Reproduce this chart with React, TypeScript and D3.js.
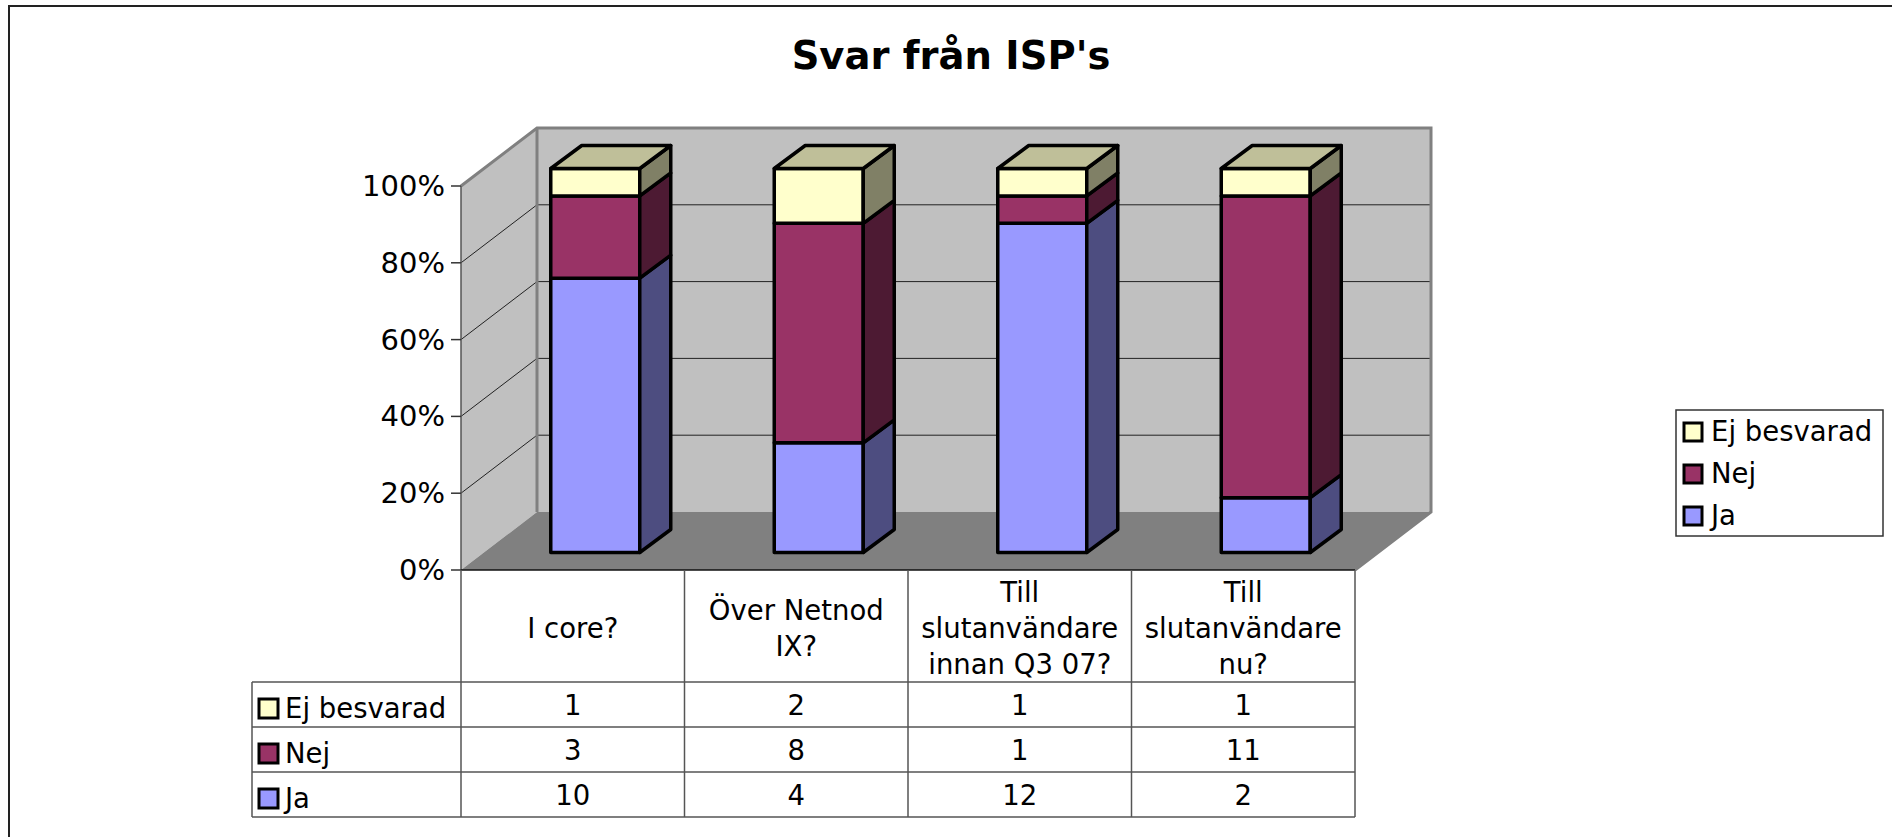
import * as d3 from "d3";

const categories = ["I core?", "Över Netnod IX?", "Till slutanvändare innan Q3 07?", "Till slutanvändare nu?"];
const categoryLines = [["I core?"], ["Över Netnod", "IX?"], ["Till", "slutanvändare", "innan Q3 07?"], ["Till", "slutanvändare", "nu?"]];
const ja = [10, 4, 12, 2];
const nej = [3, 8, 1, 11];
const ejBesvarad = [1, 2, 1, 1];
const seriesNames = ["Ja", "Nej", "Ej besvarad"];
const seriesValues = [ja, nej, ejBesvarad];
const front = ["#9999FF", "#993366", "#FFFFCC"];
const side = ["#4D4D80", "#4D1A33", "#808066"];
const topColor = "#BFBF99";
const yTicks = [0, 0.2, 0.4, 0.6, 0.8, 1];

const width = 1892;
const height = 837;
const left = 461;
const right = 1355;
const bottom = 570;
const top = 186;
const depthX = 76;
const depthY = 58;
const barDepthX = 31;
const barDepthY = 23;
const barWidth = 89;
const tableLeft = 252;
const rowTops = [682, 727, 772, 817];
const font = "'DejaVu Sans', Verdana, sans-serif";
const labelSize = 27.5;

export default function App() {
  const x = d3.scaleBand<string>().domain(categories).range([left, right]);
  const y = d3.scaleLinear([0, 1], [bottom, top]);

  const rows = categories.map((c, i) => {
    const r: any = { c };
    seriesNames.forEach((s, k) => (r[s] = seriesValues[k][i]));
    return r;
  });
  const stacked = d3.stack().keys(seriesNames).offset(d3.stackOffsetExpand)(rows);

  // bars sit in the middle of the floor depth
  const offX = (depthX - barDepthX) / 2;
  const offY = (depthY - barDepthY) / 2;
  const poly = (pts: number[][]) => pts.map((p) => p.join(",")).join(" ");

  return (
    <svg
      width={width}
      height={height}
      style={{ position: "absolute", left: 0, top: 0, fontFamily: font }}
    >
      <rect width={width} height={height} fill="#fff" />
      <path d={`M9,${height} V6 H${width}`} fill="none" stroke="#222" strokeWidth={2} />

      <text x={951} y={69} textAnchor="middle" fontSize={38.5} fontWeight="bold">
        Svar från ISP's
      </text>

      {/* walls and floor */}
      <polygon
        points={poly([[left + depthX, bottom - depthY], [right + depthX + 1, bottom - depthY], [right + depthX + 1, top - depthY], [left + depthX, top - depthY]])}
        fill="#C0C0C0"
      />
      <polygon
        points={poly([[left, bottom], [left + depthX, bottom - depthY], [left + depthX, top - depthY], [left, top]])}
        fill="#C0C0C0"
      />
      <polygon
        points={poly([[left, bottom], [right, bottom], [right + depthX, bottom - depthY], [left + depthX, bottom - depthY]])}
        fill="#808080"
      />
      {yTicks.slice(1, -1).map((t) => (
        <g key={t} stroke="#222" strokeWidth={1}>
          <line x1={left} y1={y(t)} x2={left + depthX} y2={y(t) - depthY} />
          <line x1={left + depthX} y1={y(t) - depthY} x2={right + depthX} y2={y(t) - depthY} />
        </g>
      ))}
      <path
        d={`M${left},${top} L${left + depthX},${top - depthY} H${right + depthX} V${bottom - depthY} L${right},${bottom}`}
        fill="none"
        stroke="#808080"
        strokeWidth={3}
      />
      <line x1={left + depthX} y1={top - depthY} x2={left + depthX} y2={bottom - depthY} stroke="#808080" strokeWidth={3} />

      {/* axis */}
      <line x1={left} y1={top} x2={left} y2={bottom} stroke="#555" strokeWidth={1.5} />
      {yTicks.map((t) => (
        <g key={t}>
          <line x1={left - 10} y1={y(t)} x2={left} y2={y(t)} stroke="#333" strokeWidth={1.5} />
          <text x={445} y={y(t) + 10} textAnchor="end" fontSize={29}>
            {d3.format(".0%")(t)}
          </text>
        </g>
      ))}

      {/* bars */}
      {categories.map((c, i) => {
        const x0 = x(c)! + x.bandwidth() / 2 + offX - barWidth / 2;
        const x1 = x0 + barWidth;
        return (
          <g key={c} stroke="#000" strokeWidth={3.5} strokeLinejoin="round">
            {stacked.map((s, k) => {
              const y0 = y(s[i][0]) - offY;
              const y1 = y(s[i][1]) - offY;
              return (
                <g key={s.key}>
                  <rect x={x0} y={y1} width={barWidth} height={y0 - y1} fill={front[k]} />
                  <polygon
                    points={poly([[x1, y0], [x1 + barDepthX, y0 - barDepthY], [x1 + barDepthX, y1 - barDepthY], [x1, y1]])}
                    fill={side[k]}
                  />
                  {k === stacked.length - 1 && (
                    <polygon
                      points={poly([[x0, y1], [x1, y1], [x1 + barDepthX, y1 - barDepthY], [x0 + barDepthX, y1 - barDepthY]])}
                      fill={topColor}
                    />
                  )}
                </g>
              );
            })}
          </g>
        );
      })}

      {/* data table */}
      <g stroke="#555" strokeWidth={1.5}>
        <line x1={left} y1={bottom} x2={right} y2={bottom} stroke="#111" />
        {rowTops.map((r) => (
          <line key={r} x1={tableLeft} y1={r} x2={right} y2={r} />
        ))}
        <line x1={tableLeft} y1={rowTops[0]} x2={tableLeft} y2={rowTops[3]} />
        {[...categories.map((c) => x(c)!), right].map((v) => (
          <line key={v} x1={v} y1={bottom} x2={v} y2={rowTops[3]} />
        ))}
      </g>
      {categories.map((c, i) => {
        const lines = categoryLines[i];
        const cx = x(c)! + x.bandwidth() / 2;
        return (
          <text key={c} textAnchor="middle" fontSize={labelSize}>
            {lines.map((l, j) => (
              <tspan key={j} x={cx} y={638 + (j - (lines.length - 1) / 2) * 36}>
                {l}
              </tspan>
            ))}
          </text>
        );
      })}
      {[2, 1, 0].map((k, row) => (
        <g key={k}>
          <rect x={259} y={rowTops[row] + 17} width={19} height={19} fill={front[k]} stroke="#000" strokeWidth={3} />
          <text x={285} y={rowTops[row] + 36} fontSize={labelSize}>
            {seriesNames[k]}
          </text>
          {categories.map((c, i) => (
            <text key={c} x={x(c)! + x.bandwidth() / 2} y={rowTops[row] + 33} textAnchor="middle" fontSize={labelSize}>
              {seriesValues[k][i]}
            </text>
          ))}
        </g>
      ))}

      {/* legend */}
      <rect x={1676} y={410} width={207} height={126} fill="#fff" stroke="#333" strokeWidth={1.5} />
      {[2, 1, 0].map((k, row) => (
        <g key={k}>
          <rect x={1684} y={423 + row * 42} width={18} height={18} fill={front[k]} stroke="#000" strokeWidth={3} />
          <text x={1711} y={441 + row * 42} fontSize={labelSize}>
            {seriesNames[k]}
          </text>
        </g>
      ))}
    </svg>
  );
}
